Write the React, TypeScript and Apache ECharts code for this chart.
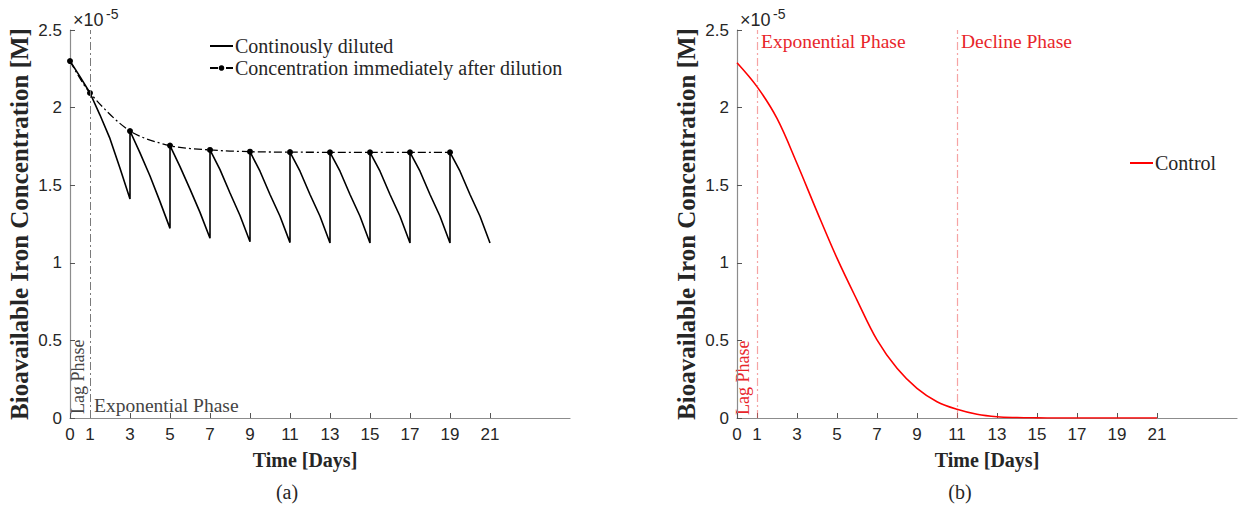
import React, { useEffect, useRef } from "react";
import * as echarts from "echarts";

// ---- data (concentration in units of 1e-5 M) ----
const tickDays = [0, 1, 3, 5, 7, 9, 11, 13, 15, 17, 19, 21];

// (a) continuously diluted (sawtooth)
const contTime = [
  0, 0.5, 1, 1.5, 2, 2.5, 3,
  3, 3.5, 4, 4.5, 5,
  5, 5.5, 6, 6.5, 7,
  7, 7.5, 8, 8.5, 9,
  9, 9.5, 10, 10.5, 11,
  11, 11.5, 12, 12.5, 13,
  13, 13.5, 14, 14.5, 15,
  15, 15.5, 16, 16.5, 17,
  17, 17.5, 18, 18.5, 19,
  19, 19.5, 20, 20.5, 21,
];
const contValue = [
  2.3, 2.2, 2.094, 1.952, 1.8, 1.609, 1.411,
  1.849, 1.708, 1.559, 1.394, 1.222,
  1.755, 1.62, 1.475, 1.325, 1.158,
  1.727, 1.6, 1.45, 1.305, 1.136,
  1.716, 1.59, 1.44, 1.3, 1.13,
  1.713, 1.59, 1.44, 1.3, 1.128,
  1.712, 1.59, 1.44, 1.3, 1.128,
  1.712, 1.59, 1.44, 1.3, 1.128,
  1.712, 1.59, 1.44, 1.3, 1.128,
  1.712, 1.59, 1.44, 1.3, 1.128,
];

// (a) concentration immediately after dilution
const dilutionDays = [0, 1, 3, 5, 7, 9, 11, 13, 15, 17, 19];
const dilutionValue = [2.3, 2.094, 1.849, 1.755, 1.727, 1.716, 1.713, 1.712, 1.712, 1.712, 1.712];

// (b) control
const controlDays = [0, 1, 2, 3, 4, 5, 6, 7, 8, 9, 10, 11, 12, 13, 14, 15, 16, 17, 18, 19, 20, 21];
const controlValue = [
  2.289, 2.135, 1.93, 1.64, 1.33, 1.03, 0.76, 0.503, 0.32, 0.191, 0.105,
  0.056, 0.024, 0.008, 0.003, 0.001, 0, 0, 0, 0, 0, 0,
];

const phaseLinesA = [1];
const phaseLinesB = [1, 11];

const SERIF = "'Liberation Serif', 'DejaVu Serif', serif";
const SANS = "'Liberation Sans', Arial, sans-serif";
const TXT = "#262626";
const AXIS = "#8c8c8c";
const DASHDOT = [8, 3, 2, 3];
const PALE_RED = "rgba(238,90,90,0.55)";
const RED_TXT = "#e8262b";

function zip(a: number[], b: number[]) {
  return a.map((v, i) => [v, b[i]]);
}

function makeX(gridIndex: number, pad: number[]) {
  return {
    type: "value",
    gridIndex,
    min: 0,
    max: 25,
    name: "Time [Days]",
    nameLocation: "middle",
    nameGap: 32,
    nameTextStyle: {
      fontFamily: SERIF,
      fontWeight: "bold",
      fontSize: 20,
      color: TXT,
      padding: pad,
    },
    axisLine: { show: true, onZero: false, lineStyle: { color: AXIS, width: 1.2 } },
    axisTick: { show: true, inside: true, length: 5, customValues: tickDays, lineStyle: { color: "#555" } },
    axisLabel: {
      customValues: tickDays,
      fontFamily: SANS,
      fontSize: 17,
      color: TXT,
      margin: 8,
    },
    splitLine: { show: false },
  };
}

function makeY(gridIndex: number) {
  return {
    type: "value",
    gridIndex,
    min: 0,
    max: 2.5,
    interval: 0.5,
    name: "Bioavailable Iron Concentration [M]",
    nameLocation: "middle",
    nameGap: 38,
    nameTextStyle: {
      fontFamily: SERIF,
      fontWeight: "bold",
      fontSize: 25,
      color: TXT,
    },
    axisLine: { show: true, onZero: false, lineStyle: { color: AXIS, width: 1.2 } },
    axisTick: { show: true, inside: true, length: 5, lineStyle: { color: "#555" } },
    axisLabel: {
      fontFamily: SANS,
      fontSize: 17,
      color: TXT,
      margin: 8,
      formatter: (v: number) => String(v),
    },
    splitLine: { show: false },
  };
}

export default function App() {
  const ref = useRef<HTMLDivElement>(null);

  useEffect(() => {
    if (!ref.current) return;
    const chart = echarts.init(ref.current, null, { renderer: "svg" });
    const legendText = { fontFamily: SERIF, fontSize: 20, color: TXT, padding: [0, 0, 0, -3] };
    const option: any = {
      animation: false,
      backgroundColor: "#ffffff",
      grid: [
        { left: 70, top: 30, width: 500, height: 388, containLabel: false },
        { left: 737, top: 30, width: 500, height: 388, containLabel: false },
      ],
      xAxis: [makeX(0, [0, 30, 0, 0]), makeX(1, [0, 0, 0, 0])],
      yAxis: [makeY(0), makeY(1)],
      legend: [
        {
          orient: "vertical",
          left: 209,
          top: 36,
          padding: 0,
          itemWidth: 23,
          itemHeight: 7,
          itemGap: 2,
          data: [
            { name: "Continously diluted", itemStyle: { opacity: 0 } },
            { name: "Concentration immediately after dilution", lineStyle: { type: DASHDOT } },
          ],
          textStyle: legendText,
        },
        {
          orient: "vertical",
          left: 1129,
          top: 153,
          padding: 0,
          itemWidth: 23,
          itemHeight: 7,
          data: [{ name: "Control", itemStyle: { opacity: 0 } }],
          textStyle: legendText,
        },
      ],
      series: [
        {
          name: "Continously diluted",
          type: "line",
          xAxisIndex: 0,
          yAxisIndex: 0,
          data: zip(contTime, contValue),
          showSymbol: false,
          symbol: "none",
          lineStyle: { color: "#000", width: 1.6 },
          itemStyle: { color: "#000" },
          markLine: {
            silent: true,
            symbol: ["none", "none"],
            label: { show: false },
            lineStyle: { color: "#7a7a7a", width: 1, type: DASHDOT },
            data: phaseLinesA.map((d) => ({ xAxis: d })),
          },
        },
        {
          name: "Concentration immediately after dilution",
          type: "line",
          xAxisIndex: 0,
          yAxisIndex: 0,
          data: zip(dilutionDays, dilutionValue),
          smooth: 0.3,
          symbol: "circle",
          symbolSize: 6,
          lineStyle: { color: "#000", width: 1.3, type: DASHDOT },
          itemStyle: { color: "#000" },
        },
        {
          name: "Control",
          type: "line",
          xAxisIndex: 1,
          yAxisIndex: 1,
          data: zip(controlDays, controlValue),
          smooth: 0.35,
          showSymbol: false,
          symbol: "none",
          lineStyle: { color: "#ff0000", width: 1.6 },
          itemStyle: { color: "#ff0000" },
          markLine: {
            silent: true,
            symbol: ["none", "none"],
            label: { show: false },
            lineStyle: { color: PALE_RED, width: 1.2, type: DASHDOT },
            data: phaseLinesB.map((d) => ({ xAxis: d })),
          },
        },
      ],
    };
    chart.setOption(option);

    const px = (g: number, x: number, y: number) =>
      chart.convertToPixel({ gridIndex: g } as any, [x, y]) as number[];

    const graphics: any[] = [];
    [0, 1].forEach((g) => {
      const o = px(g, 0, 2.5);
      graphics.push({
        type: "text",
        x: o[0] + 3,
        y: o[1] - 10,
        style: { text: "×10", fontFamily: SANS, fontSize: 18, fill: TXT, textAlign: "left", textVerticalAlign: "middle" },
      });
      graphics.push({
        type: "text",
        x: o[0] + 36,
        y: o[1] - 16,
        style: { text: "-5", fontFamily: SANS, fontSize: 14, fill: TXT, textAlign: "left", textVerticalAlign: "middle" },
      });
    });

    const phaseFont = { fontFamily: SERIF, fontSize: 19.5, textVerticalAlign: "middle" };

    // (a) phase annotations
    const a0 = px(0, 0, 0);
    graphics.push({
      type: "text",
      x: a0[0] + 8,
      y: a0[1] - 4,
      rotation: Math.PI / 2,
      style: { ...phaseFont, fontSize: 18, text: "Lag Phase", fill: "#444", textAlign: "left" },
    });
    const a1 = px(0, phaseLinesA[0], 0);
    graphics.push({
      type: "text",
      x: a1[0] + 4,
      y: a1[1] - 13,
      style: { ...phaseFont, text: "Exponential Phase", fill: "#444", textAlign: "left" },
    });

    // (b) phase annotations
    const b0 = px(1, 0, 0);
    graphics.push({
      type: "text",
      x: b0[0] + 6,
      y: b0[1] - 3,
      rotation: Math.PI / 2,
      style: { ...phaseFont, fontSize: 18, text: "Lag Phase", fill: RED_TXT, textAlign: "left" },
    });
    const b1 = px(1, phaseLinesB[0], 2.5);
    graphics.push({
      type: "text",
      x: b1[0] + 4,
      y: b1[1] + 11,
      style: { ...phaseFont, text: "Exponential Phase", fill: RED_TXT, textAlign: "left" },
    });
    const b2 = px(1, phaseLinesB[1], 2.5);
    graphics.push({
      type: "text",
      x: b2[0] + 4,
      y: b2[1] + 11,
      style: { ...phaseFont, text: "Decline Phase", fill: RED_TXT, textAlign: "left" },
    });

    // captions
    graphics.push({
      type: "text",
      x: 287,
      y: 492,
      style: { text: "(a)", fontFamily: SERIF, fontSize: 20, fill: TXT, textAlign: "center", textVerticalAlign: "middle" },
    });
    graphics.push({
      type: "text",
      x: 960,
      y: 492,
      style: { text: "(b)", fontFamily: SERIF, fontSize: 20, fill: TXT, textAlign: "center", textVerticalAlign: "middle" },
    });

    chart.setOption({ graphic: graphics });

    return () => chart.dispose();
  }, []);

  return (
    <div
      ref={ref}
      style={{ position: "absolute", left: 0, top: 0, width: 1240, height: 511, background: "#fff" }}
    />
  );
}
